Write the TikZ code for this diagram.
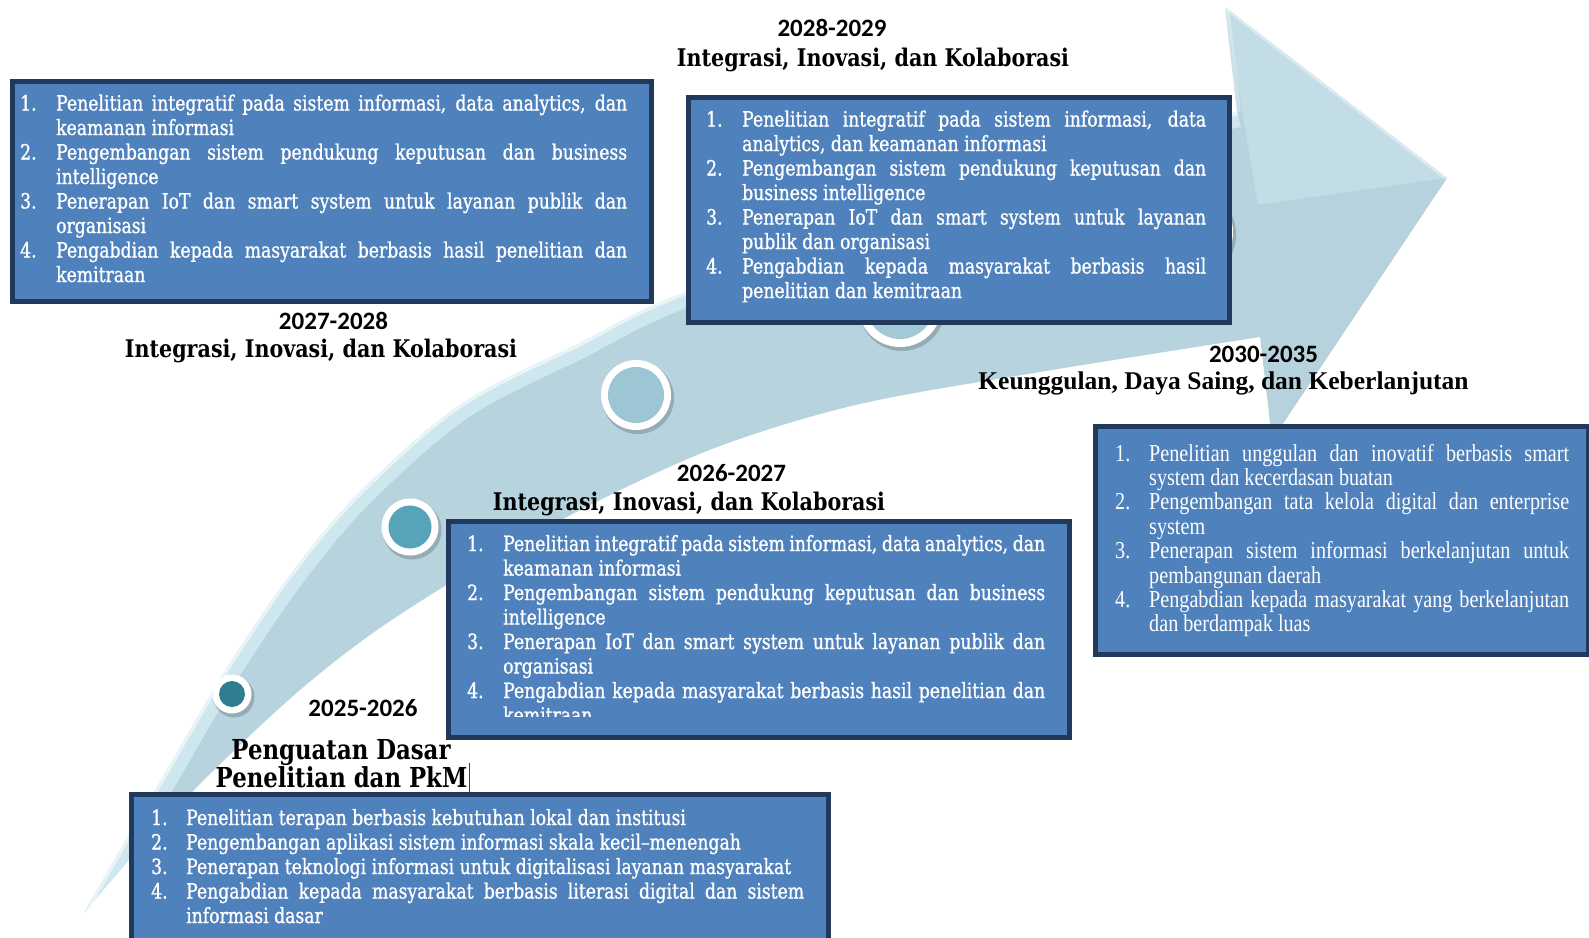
\documentclass[tikz,border=0pt]{standalone}
\usepackage{fontspec}
\setmainfont{DejaVu Serif}
\newfontfamily\listfont[FakeStretch=0.82,FakeBold=1.0]{DejaVu Serif}
\newfontfamily\titlefont[FakeStretch=0.85]{DejaVu Serif}
\newfontfamily\penfont[FakeStretch=0.83]{DejaVu Serif}
\newfontfamily\yearfont{Carlito}
\newfontfamily\romanfont{Liberation Serif}
\newfontfamily\narrowroman[FakeStretch=0.83]{Liberation Serif}

\definecolor{panelfill}{HTML}{4F81BD}
\definecolor{paneledge}{HTML}{213A5B}
\definecolor{swoosh}{HTML}{B7D3DE}
\definecolor{swooshlight}{HTML}{D3EBF3}
\definecolor{facetlight}{HTML}{C3DDE6}
\definecolor{facetdark}{HTML}{B5D2DD}
\definecolor{dotA}{HTML}{2F7D90}
\definecolor{dotB}{HTML}{57A3B9}
\definecolor{dotC}{HTML}{9DC6D5}
\definecolor{dotD}{HTML}{A3C9D7}
\definecolor{dotE}{HTML}{A9CDDA}

% list lines: number column of width \numw, justified text column of width \txtw
\newlength\numw
\newlength\txtw
\newcommand\twoline[3]{\hbox{\makebox[\numw][l]{#1}\makebox[\txtw][s]{#2}}\hbox{\hspace*{\numw}#3}}
\newcommand\oneline[2]{\hbox{\makebox[\numw][l]{#1}#2}}

\tikzset{
  panel/.style={draw=paneledge, line width=4.5pt, fill=panelfill, inner sep=0pt, anchor=north west},
  items/.style={text=white, inner sep=0pt, anchor=base west,
                font=\listfont\fontsize{21}{24.5}\selectfont},
  yearlabel/.style={anchor=base, inner sep=0pt, font=\yearfont\bfseries\fontsize{25}{30}\selectfont},
  phaselabel/.style={anchor=base, inner sep=0pt, font=\titlefont\bfseries\fontsize{24.3}{28}\selectfont},
  penlabel/.style={anchor=base, inner sep=0pt, font=\penfont\bfseries\fontsize{27.5}{28}\selectfont},
  ring/.style={circle, fill=white, inner sep=0pt},
  dot/.style={circle, inner sep=0pt},
  dotshadow/.style={circle, fill=black, fill opacity=0.18, inner sep=0pt},
}

\begin{document}
\begin{tikzpicture}[x=1pt, y=-1pt]
\useasboundingbox (0,0) rectangle (1589,937);
\clip (0,0) rectangle (1589,937);

% the swoosh arrow
\begin{scope}
  \clip plot[smooth, tension=0.55] coordinates {(84,913) (120,850) (160,782) (227,668) (293,571) (360,492) (460,405) (580,343) (683,293) (960,192) (1237,112)}
     -- (1225,7) -- (1447,178) -- (1272,440) -- (1260,337)
     -- plot[smooth, tension=0.55] coordinates {(1260,337) (1040,372) (860,404) (720,446) (600,500) (480,565) (380,628) (300,690) (214,770) (142,845) (84,913)}
     -- cycle;
  \fill[swoosh] (0,0) rectangle (1589,937);
  \draw[swooshlight, line width=30pt, opacity=0.85] plot[smooth, tension=0.55] coordinates {(84,913) (120,850) (160,782) (227,668) (293,571) (360,492) (460,405) (580,343) (683,293) (960,192) (1237,112)};
  \draw[white, line width=6pt, opacity=0.55] plot[smooth, tension=0.55] coordinates {(84,913) (120,850) (160,782) (227,668) (293,571) (360,492) (460,405) (580,343) (683,293) (960,192) (1237,112)};
  % arrow head facets
  \fill[facetlight] (1225,7) -- (1447,178) -- (1258,205) -- cycle;
  \fill[facetdark] (1258,205) -- (1447,178) -- (1272,440) -- cycle;
  \draw[white, line width=5pt, opacity=0.4] (1225,7) -- (1447,178);
  \draw[white, line width=8pt, opacity=0.3] (1225,7) -- (1237,112);
\end{scope}

% milestone dots
\node[dotshadow, minimum size=41] at (234,697) {};
\node[ring, minimum size=39] (ring1) at (232,694) {};
\node[dot, fill=dotA, minimum size=26] (dot1) at (ring1.center) {};
\node[dotshadow, minimum size=59] at (412,530) {};
\node[ring, minimum size=57] (ring2) at (410,527) {};
\node[dot, fill=dotB, minimum size=43] (dot2) at (ring2.center) {};
\node[dotshadow, minimum size=72] at (638,398) {};
\node[ring, minimum size=70] (ring3) at (636,395) {};
\node[dot, fill=dotC, minimum size=56] (dot3) at (ring3.center) {};
\node[dotshadow, minimum size=86] at (902,308) {};
\node[ring, minimum size=84] (ring4) at (900,305) {};
\node[dot, fill=dotD, minimum size=68] (dot4) at (ring4.center) {};
\node[dotshadow, minimum size=96] at (1188,235) {};
\node[ring, minimum size=94] (ring5) at (1186,232) {};
\node[dot, fill=dotE, minimum size=78] (dot5) at (ring5.center) {};

% panels
\node[panel, minimum width=639, minimum height=220] (boxA) at (10,79) {};
\node[panel, minimum width=541, minimum height=225] (boxB) at (686,95) {};
\node[panel, minimum width=493, minimum height=228] (boxC) at (1093,424) {};
\node[panel, minimum width=621, minimum height=216] (boxD) at (446,519) {};
\node[panel, minimum width=697, minimum height=170] (boxE) at (129,792) {};

% panel texts
\node[items] (listA) at (20,110.5) {\setlength\numw{36pt}\setlength\txtw{571pt}\vtop{%
\twoline{1.}{Penelitian integratif pada sistem informasi, data analytics, dan}{keamanan informasi}
\twoline{2.}{Pengembangan sistem pendukung keputusan dan business}{intelligence}
\twoline{3.}{Penerapan IoT dan smart system untuk layanan publik dan}{organisasi}
\twoline{4.}{Pengabdian kepada masyarakat berbasis hasil penelitian dan}{kemitraan}}};

\node[items] (listB) at (706,126.5) {\setlength\numw{36pt}\setlength\txtw{464pt}\vtop{%
\twoline{1.}{Penelitian integratif pada sistem informasi, data}{analytics, dan keamanan informasi}
\twoline{2.}{Pengembangan sistem pendukung keputusan dan}{business intelligence}
\twoline{3.}{Penerapan IoT dan smart system untuk layanan}{publik dan organisasi}
\twoline{4.}{Pengabdian kepada masyarakat berbasis hasil}{penelitian dan kemitraan}}};

\node[items, font=\narrowroman\fontsize{24.3}{24.4}\selectfont] (listC) at (1115,461) {\setlength\numw{34pt}\setlength\txtw{420pt}\vtop{%
\twoline{1.}{Penelitian unggulan dan inovatif berbasis smart}{system dan kecerdasan buatan}
\twoline{2.}{Pengembangan tata kelola digital dan enterprise}{system}
\twoline{3.}{Penerapan sistem informasi berkelanjutan untuk}{pembangunan daerah}
\twoline{4.}{Pengabdian kepada masyarakat yang berkelanjutan}{dan berdampak luas}}};

\begin{scope}
  \clip (446,519) rectangle (1067,716);
  \node[items] (listD) at (467,551) {\setlength\numw{36pt}\setlength\txtw{542pt}\vtop{%
  \twoline{1.}{Penelitian integratif pada sistem informasi, data analytics, dan}{keamanan informasi}
  \twoline{2.}{Pengembangan sistem pendukung keputusan dan business}{intelligence}
  \twoline{3.}{Penerapan IoT dan smart system untuk layanan publik dan}{organisasi}
  \twoline{4.}{Pengabdian kepada masyarakat berbasis hasil penelitian dan}{kemitraan}}};
\end{scope}

\node[items] (listE) at (151,825) {\setlength\numw{35pt}\setlength\txtw{618pt}\vtop{%
\oneline{1.}{Penelitian terapan berbasis kebutuhan lokal dan institusi}
\oneline{2.}{Pengembangan aplikasi sistem informasi skala kecil–menengah}
\oneline{3.}{Penerapan teknologi informasi untuk digitalisasi layanan masyarakat}
\twoline{4.}{Pengabdian kepada masyarakat berbasis literasi digital dan sistem}{informasi dasar}}};

% phase headings
\node[yearlabel] (yr2028) at (832,36) {2028-2029};
\node[phaselabel] (ph2028) at (873,66) {Integrasi, Inovasi, dan Kolaborasi};
\node[yearlabel] (yr2027) at (333.5,329) {2027-2028};
\node[phaselabel] (ph2027) at (321,357) {Integrasi, Inovasi, dan Kolaborasi};
\node[yearlabel] (yr2030) at (1263.5,362) {2030-2035};
\node[phaselabel, font=\romanfont\bfseries\fontsize{25.5}{28}\selectfont] (ph2030) at (1223.5,389) {Keunggulan, Daya Saing, dan Keberlanjutan};
\node[yearlabel] (yr2026) at (731.5,481) {2026-2027};
\node[phaselabel] (ph2026) at (689,510) {Integrasi, Inovasi, dan Kolaborasi};
\node[yearlabel] (yr2025) at (363,716) {2025-2026};
\node[penlabel] (pen1) at (341,759) {Penguatan Dasar};
\node[penlabel] (pen2) at (341.5,787) {Penelitian dan PkM\rlap{\hspace{1.5pt}\color{darkgray}\rule[-5pt]{0.9pt}{29pt}}};
\end{tikzpicture}
\end{document}
